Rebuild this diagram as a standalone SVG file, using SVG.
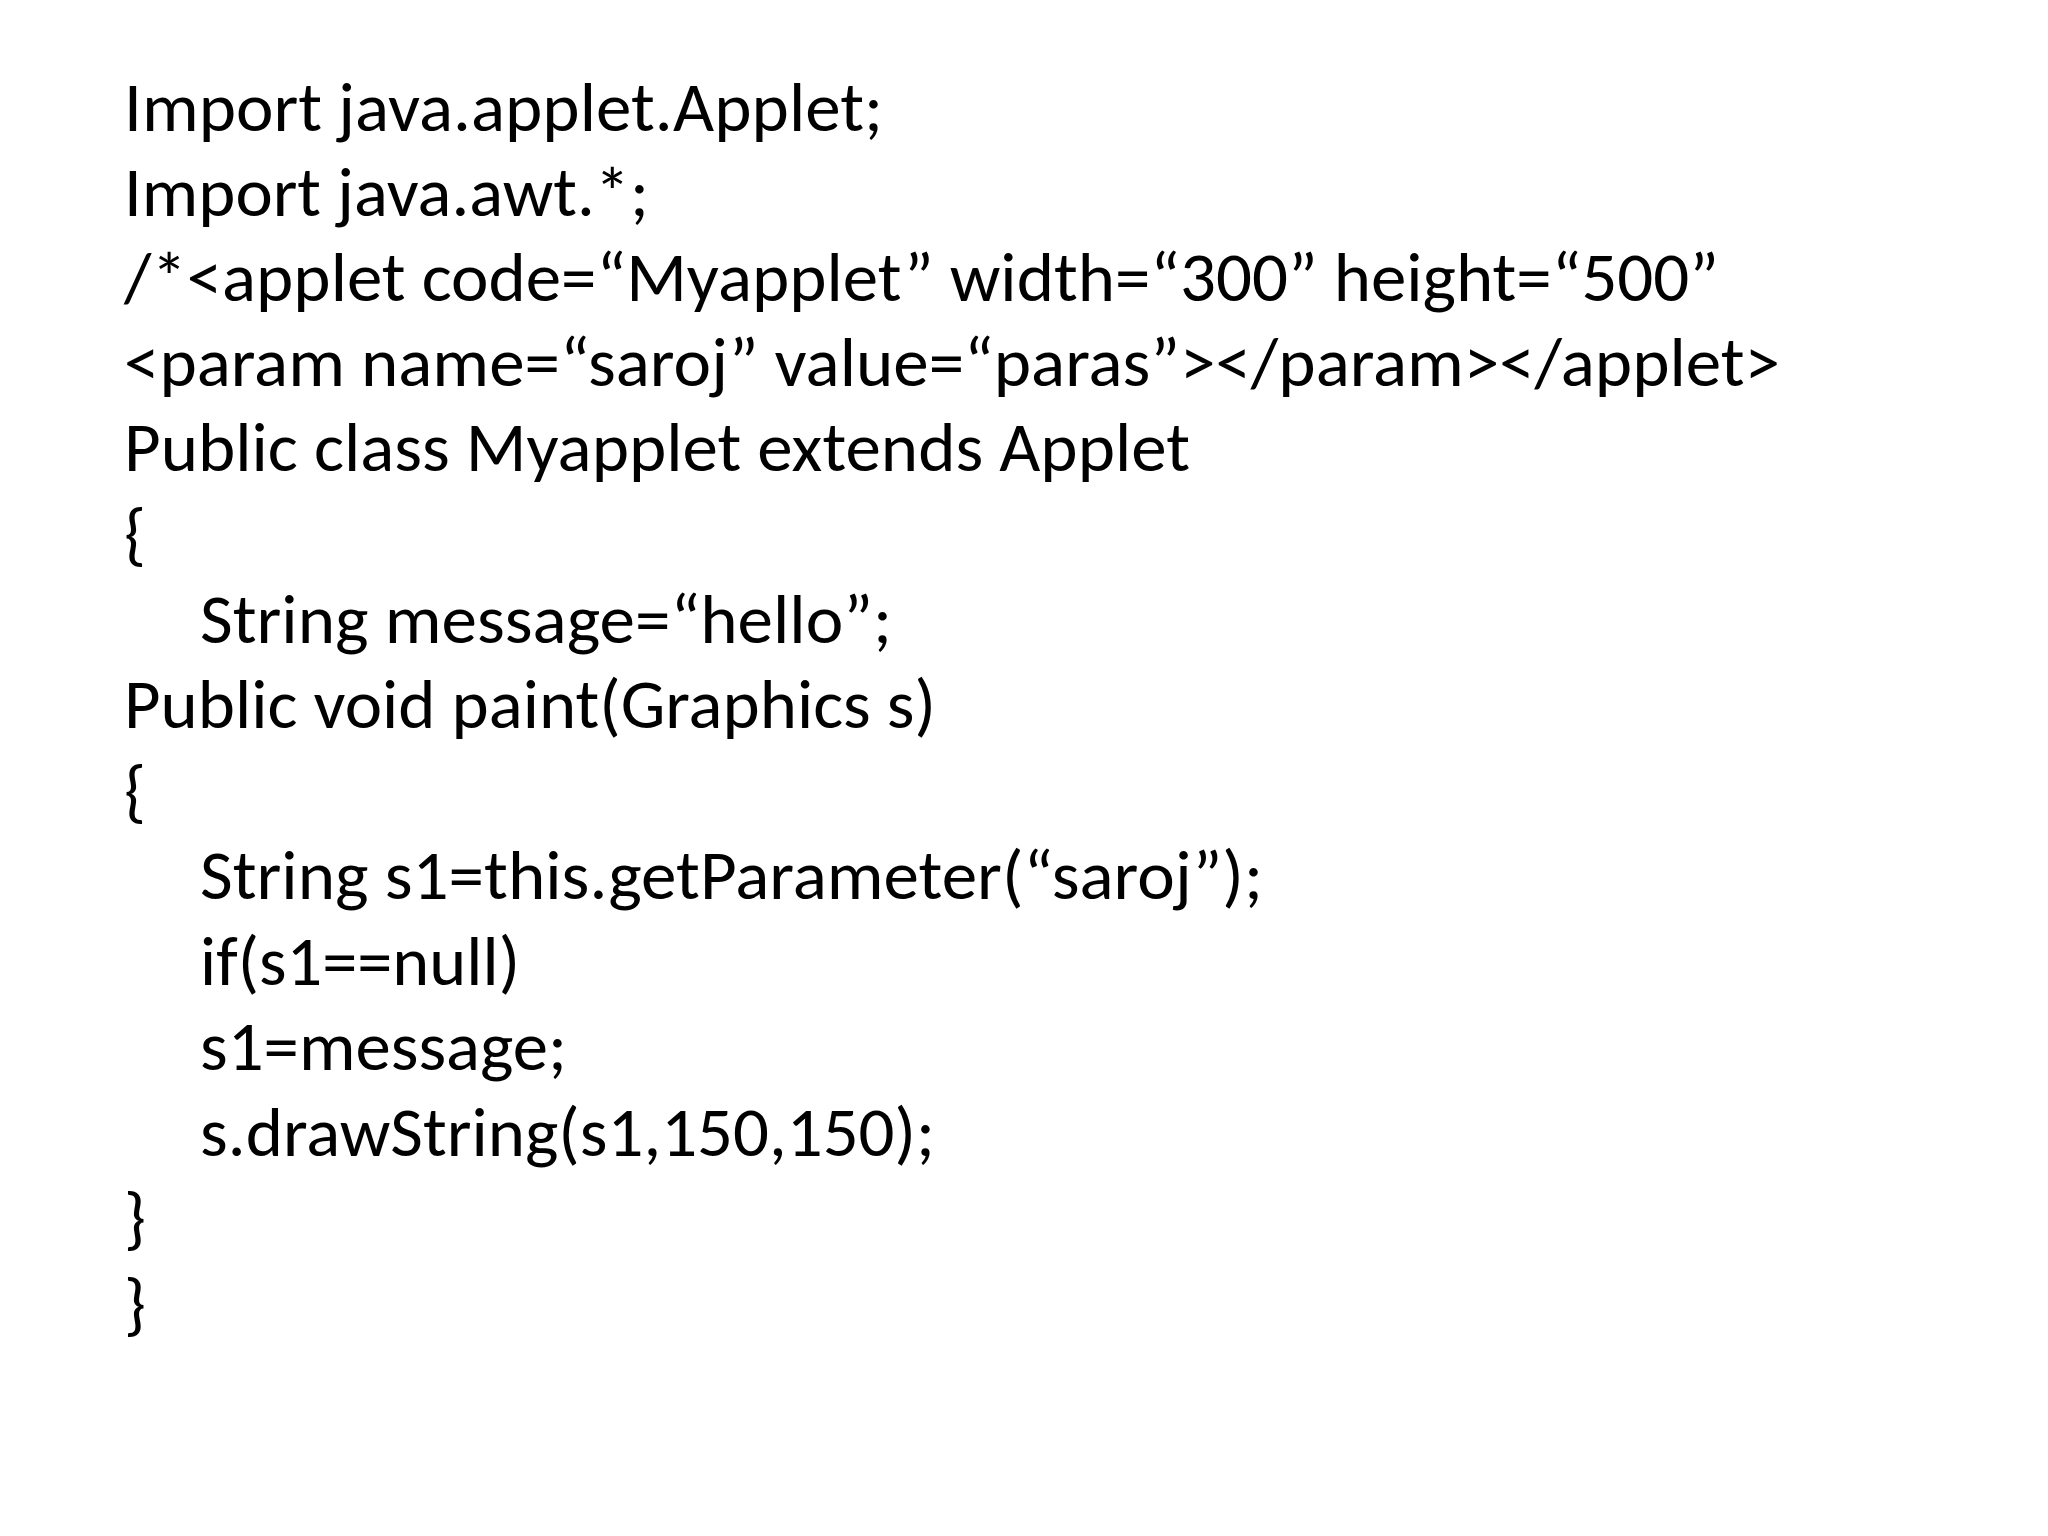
<svg xmlns="http://www.w3.org/2000/svg" width="2048" height="1536" viewBox="0 0 2048 1536">
<style>text{font-family:"Carlito","Lato","Open Sans",sans-serif;font-size:70px;fill:#000}</style>
<rect width="2048" height="1536" fill="#fff"/>
<text x="124" y="131" textLength="759" lengthAdjust="spacingAndGlyphs">Import java.applet.Applet;</text>
<text x="124" y="216" textLength="525" lengthAdjust="spacingAndGlyphs">Import java.awt.*;</text>
<text x="124" y="301" textLength="1595" lengthAdjust="spacingAndGlyphs">/*&lt;applet code=“Myapplet” width=“300” height=“500”</text>
<text x="124" y="386" textLength="1656" lengthAdjust="spacingAndGlyphs">&lt;param name=“saroj” value=“paras”&gt;&lt;/param&gt;&lt;/applet&gt;</text>
<text x="124" y="471" textLength="1066" lengthAdjust="spacingAndGlyphs">Public class Myapplet extends Applet</text>
<text x="124" y="557">{</text>
<text x="200" y="643" textLength="692" lengthAdjust="spacingAndGlyphs">String message=“hello”;</text>
<text x="124" y="728" textLength="812" lengthAdjust="spacingAndGlyphs">Public void paint(Graphics s)</text>
<text x="124" y="814">{</text>
<text x="200" y="899" textLength="1063" lengthAdjust="spacingAndGlyphs">String s1=this.getParameter(“saroj”);</text>
<text x="200" y="985" textLength="320" lengthAdjust="spacingAndGlyphs">if(s1==null)</text>
<text x="200" y="1070" textLength="367" lengthAdjust="spacingAndGlyphs">s1=message;</text>
<text x="200" y="1156" textLength="735" lengthAdjust="spacingAndGlyphs">s.drawString(s1,150,150);</text>
<text x="124" y="1241">}</text>
<text x="124" y="1327">}</text>
</svg>
